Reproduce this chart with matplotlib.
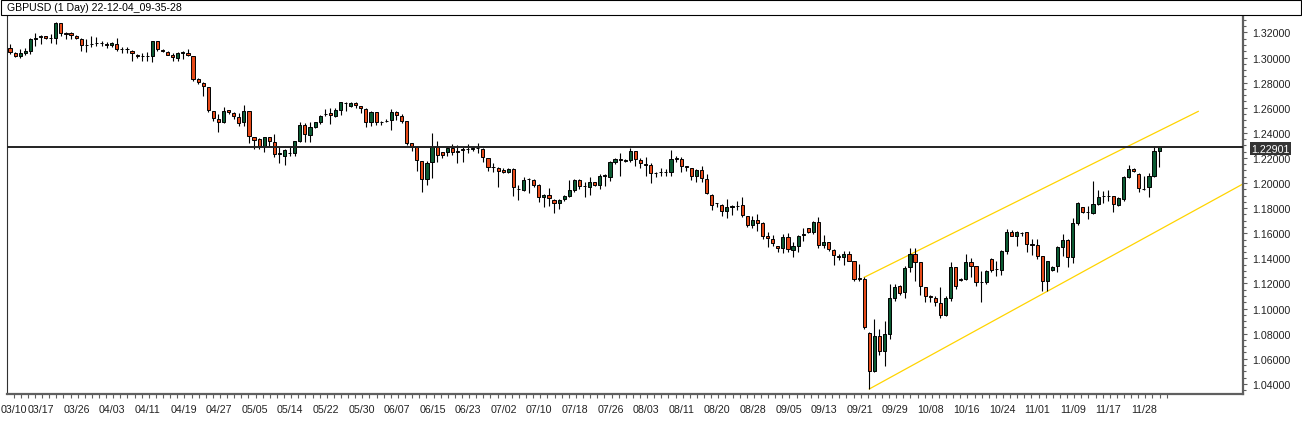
import matplotlib
matplotlib.use('Agg')
import matplotlib.pyplot as plt
import matplotlib.transforms as mtransforms
from matplotlib.patches import Rectangle
from matplotlib.ticker import MultipleLocator, FixedLocator, FuncFormatter
import numpy as np

plt.rcParams['font.family'] = ['Liberation Sans', 'DejaVu Sans']

title = 'GBPUSD (1 Day) 22-12-04_09-35-28'

# OHLC, one row per daily candle
opens = [1.3074, 1.3034, 1.3010, 1.3037, 1.3050, 1.3150, 1.3160, 1.3169, 1.3153, 1.3153,
         1.3273, 1.3193, 1.3196, 1.3175, 1.3145, 1.3100, 1.3104, 1.3117, 1.3119, 1.3105,
         1.3103, 1.3106, 1.3071, 1.3069, 1.3055, 1.3023, 1.3015, 1.3013, 1.3010, 1.3130,
         1.3057, 1.3042, 1.3023, 1.2997, 1.3040, 1.3034, 1.3010, 1.2829, 1.2795, 1.2763,
         1.2572, 1.2508, 1.2484, 1.2580, 1.2556, 1.2524, 1.2484, 1.2572, 1.2364, 1.2348,
         1.2293, 1.2364, 1.2324, 1.2235, 1.2218, 1.2240, 1.2237, 1.2338, 1.2463, 1.2386,
         1.2449, 1.2484, 1.2548, 1.2558, 1.2537, 1.2582, 1.2641, 1.2616, 1.2638, 1.2611,
         1.2590, 1.2484, 1.2563, 1.2490, 1.2495, 1.2505, 1.2563, 1.2531, 1.2492, 1.2316,
         1.2284, 1.2173, 1.2032, 1.2165, 1.2284, 1.2244, 1.2250, 1.2279, 1.2258, 1.2268,
         1.2271, 1.2274, 1.2279, 1.2271, 1.2197, 1.2126, 1.2117, 1.2106, 1.2090, 1.2112,
         1.1953, 1.1947, 1.2030, 1.2024, 1.1984, 1.1886, 1.1904, 1.1867, 1.1838, 1.1873,
         1.1899, 1.1947, 1.2024, 1.1975, 1.1965, 1.2005, 1.1987, 1.2053, 1.2051, 1.2165,
         1.2188, 1.2175, 1.2186, 1.2252, 1.2183, 1.2150, 1.2144, 1.2080, 1.2085, 1.2086,
         1.2086, 1.2195, 1.2192, 1.2133, 1.2118, 1.2054, 1.2104, 1.2032, 1.1908, 1.1840,
         1.1828, 1.1775, 1.1813, 1.1818, 1.1825, 1.1735, 1.1668, 1.1706, 1.1682, 1.1575,
         1.1554, 1.1496, 1.1480, 1.1567, 1.1469, 1.1501, 1.1589, 1.1639, 1.1613, 1.1687,
         1.1509, 1.1528, 1.1466, 1.1415, 1.1408, 1.1435, 1.1377, 1.1241, 1.1236, 1.0803,
         1.0505, 1.0779, 1.0665, 1.0797, 1.1084, 1.1177, 1.1129, 1.1329, 1.1435, 1.1369,
         1.1169, 1.1097, 1.1082, 1.1042, 1.0952, 1.1084, 1.1329, 1.1233, 1.1236, 1.1369,
         1.1337, 1.1211, 1.1209, 1.1393, 1.1313, 1.1310, 1.1462, 1.1608, 1.1581, 1.1604,
         1.1608, 1.1512, 1.1510, 1.1416, 1.1217, 1.1310, 1.1337, 1.1493, 1.1546, 1.1408,
         1.1682, 1.1807, 1.1770, 1.1762, 1.1833, 1.1893, 1.1895, 1.1895, 1.1826, 1.1873,
         1.2051, 1.2112, 1.2073, 1.1955, 1.1966, 1.2059, 1.2259]
highs = [1.3108, 1.3042, 1.3068, 1.3076, 1.3153, 1.3196, 1.3180, 1.3175, 1.3191, 1.3281,
         1.3276, 1.3201, 1.3206, 1.3183, 1.3153, 1.3148, 1.3169, 1.3167, 1.3135, 1.3122,
         1.3127, 1.3153, 1.3087, 1.3087, 1.3060, 1.3029, 1.3034, 1.3042, 1.3135, 1.3135,
         1.3068, 1.3055, 1.3037, 1.3042, 1.3052, 1.3068, 1.3015, 1.2835, 1.2803, 1.2768,
         1.2577, 1.2550, 1.2604, 1.2585, 1.2564, 1.2556, 1.2622, 1.2577, 1.2370, 1.2356,
         1.2370, 1.2370, 1.2391, 1.2285, 1.2271, 1.2285, 1.2338, 1.2484, 1.2479, 1.2484,
         1.2489, 1.2542, 1.2590, 1.2595, 1.2595, 1.2648, 1.2646, 1.2643, 1.2643, 1.2616,
         1.2595, 1.2574, 1.2569, 1.2497, 1.2510, 1.2590, 1.2571, 1.2550, 1.2497, 1.2316,
         1.2290, 1.2178, 1.2178, 1.2399, 1.2332, 1.2250, 1.2290, 1.2311, 1.2306, 1.2284,
         1.2311, 1.2290, 1.2316, 1.2276, 1.2202, 1.2159, 1.2125, 1.2117, 1.2117, 1.2117,
         1.1984, 1.2045, 1.2040, 1.2032, 1.1989, 1.1912, 1.1958, 1.1873, 1.1873, 1.1904,
         1.2024, 1.2032, 1.2032, 1.2005, 1.2051, 1.2011, 1.2072, 1.2072, 1.2173, 1.2197,
         1.2239, 1.2191, 1.2279, 1.2258, 1.2197, 1.2205, 1.2157, 1.2086, 1.2120, 1.2112,
         1.2264, 1.2213, 1.2205, 1.2133, 1.2123, 1.2112, 1.2139, 1.2072, 1.1913, 1.1841,
         1.1833, 1.1873, 1.1825, 1.1860, 1.1892, 1.1740, 1.1740, 1.1753, 1.1687, 1.1613,
         1.1586, 1.1501, 1.1594, 1.1602, 1.1528, 1.1586, 1.1642, 1.1642, 1.1700, 1.1727,
         1.1586, 1.1533, 1.1474, 1.1435, 1.1456, 1.1461, 1.1382, 1.1355, 1.1249, 1.0811,
         1.0917, 1.0837, 1.0904, 1.1196, 1.1196, 1.1188, 1.1342, 1.1486, 1.1483, 1.1374,
         1.1175, 1.1111, 1.1103, 1.1175, 1.1103, 1.1369, 1.1334, 1.1241, 1.1435, 1.1401,
         1.1342, 1.1302, 1.1308, 1.1401, 1.1382, 1.1470, 1.1634, 1.1626, 1.1621, 1.1608,
         1.1613, 1.1555, 1.1555, 1.1422, 1.1382, 1.1342, 1.1501, 1.1594, 1.1554, 1.1719,
         1.1847, 1.1812, 1.1815, 1.2019, 1.1945, 1.1940, 1.1945, 1.1900, 1.1887, 1.2054,
         1.2144, 1.2118, 1.2078, 1.2054, 1.2078, 1.2298, 1.2293]
lows = [1.3029, 1.3002, 1.2994, 1.3023, 1.3029, 1.3095, 1.3108, 1.3145, 1.3119, 1.3108,
        1.3169, 1.3145, 1.3151, 1.3145, 1.3055, 1.3042, 1.3087, 1.3092, 1.3095, 1.3079,
        1.3087, 1.3050, 1.3037, 1.3034, 1.2970, 1.2997, 1.2975, 1.2975, 1.2962, 1.3055,
        1.3042, 1.3018, 1.2975, 1.2970, 1.2989, 1.3010, 1.2816, 1.2789, 1.2691, 1.2564,
        1.2495, 1.2404, 1.2479, 1.2550, 1.2511, 1.2457, 1.2452, 1.2317, 1.2271, 1.2271,
        1.2250, 1.2285, 1.2205, 1.2157, 1.2146, 1.2218, 1.2218, 1.2324, 1.2324, 1.2330,
        1.2439, 1.2471, 1.2532, 1.2470, 1.2523, 1.2542, 1.2577, 1.2608, 1.2595, 1.2555,
        1.2449, 1.2457, 1.2462, 1.2465, 1.2484, 1.2425, 1.2505, 1.2476, 1.2306, 1.2258,
        1.2098, 1.1931, 1.1984, 1.2037, 1.2165, 1.2197, 1.2213, 1.2226, 1.2157, 1.2165,
        1.2239, 1.2258, 1.2236, 1.2170, 1.2098, 1.2085, 1.1971, 1.2080, 1.2080, 1.1894,
        1.1867, 1.1939, 1.1918, 1.1971, 1.1846, 1.1806, 1.1819, 1.1758, 1.1793, 1.1859,
        1.1886, 1.1931, 1.1952, 1.1886, 1.1904, 1.1979, 1.1952, 1.1979, 1.2013, 1.2151,
        1.2058, 1.2165, 1.2170, 1.2133, 1.2117, 1.2058, 1.1998, 1.2046, 1.2059, 1.2059,
        1.2059, 1.2165, 1.2091, 1.2099, 1.2027, 1.2006, 1.2006, 1.1913, 1.1788, 1.1807,
        1.1740, 1.1719, 1.1748, 1.1788, 1.1732, 1.1647, 1.1642, 1.1621, 1.1554, 1.1493,
        1.1501, 1.1453, 1.1440, 1.1448, 1.1408, 1.1453, 1.1541, 1.1602, 1.1594, 1.1480,
        1.1480, 1.1461, 1.1350, 1.1387, 1.1350, 1.1376, 1.1223, 1.1223, 1.0837, 1.0359,
        1.0497, 1.0630, 1.0545, 1.0758, 1.1063, 1.1111, 1.1082, 1.1294, 1.1223, 1.1111,
        1.1055, 1.1055, 1.1023, 1.0922, 1.0944, 1.1058, 1.1156, 1.1220, 1.1231, 1.1254,
        1.1183, 1.1055, 1.1196, 1.1294, 1.1262, 1.1268, 1.1435, 1.1576, 1.1501, 1.1576,
        1.1448, 1.1427, 1.1395, 1.1143, 1.1143, 1.1302, 1.1289, 1.1422, 1.1334, 1.1361,
        1.1666, 1.1762, 1.1714, 1.1754, 1.1826, 1.1841, 1.1860, 1.1772, 1.1815, 1.1860,
        1.2041, 1.2086, 1.1932, 1.1945, 1.1892, 1.2046, 1.2126]
closes = [1.3042, 1.3010, 1.3034, 1.3055, 1.3145, 1.3156, 1.3169, 1.3153, 1.3156, 1.3273,
          1.3196, 1.3191, 1.3180, 1.3156, 1.3100, 1.3102, 1.3106, 1.3119, 1.3117, 1.3103,
          1.3114, 1.3071, 1.3069, 1.3067, 1.3034, 1.3010, 1.3013, 1.3015, 1.3130, 1.3068,
          1.3055, 1.3023, 1.3002, 1.3034, 1.3042, 1.3018, 1.2829, 1.2803, 1.2771, 1.2582,
          1.2516, 1.2484, 1.2572, 1.2564, 1.2532, 1.2479, 1.2572, 1.2372, 1.2343, 1.2293,
          1.2364, 1.2338, 1.2232, 1.2237, 1.2261, 1.2237, 1.2332, 1.2463, 1.2391, 1.2444,
          1.2484, 1.2537, 1.2550, 1.2542, 1.2582, 1.2643, 1.2640, 1.2635, 1.2622, 1.2595,
          1.2484, 1.2569, 1.2489, 1.2489, 1.2497, 1.2563, 1.2542, 1.2497, 1.2316, 1.2290,
          1.2183, 1.2032, 1.2157, 1.2284, 1.2226, 1.2226, 1.2276, 1.2244, 1.2244, 1.2266,
          1.2270, 1.2276, 1.2278, 1.2205, 1.2130, 1.2125, 1.2098, 1.2090, 1.2112, 1.1965,
          1.1952, 1.2024, 1.2032, 1.1987, 1.1886, 1.1904, 1.1878, 1.1838, 1.1864, 1.1894,
          1.1944, 1.2024, 1.1979, 1.1973, 1.2005, 1.1987, 1.2058, 1.2064, 1.2165, 1.2191,
          1.2186, 1.2183, 1.2252, 1.2191, 1.2157, 1.2146, 1.2078, 1.2078, 1.2086, 1.2088,
          1.2192, 1.2197, 1.2139, 1.2131, 1.2054, 1.2104, 1.2038, 1.1918, 1.1828, 1.1839,
          1.1775, 1.1807, 1.1815, 1.1820, 1.1748, 1.1668, 1.1706, 1.1682, 1.1581, 1.1560,
          1.1520, 1.1480, 1.1567, 1.1474, 1.1496, 1.1581, 1.1591, 1.1613, 1.1687, 1.1509,
          1.1528, 1.1474, 1.1429, 1.1413, 1.1435, 1.1381, 1.1236, 1.1238, 1.0856, 1.0505,
          1.0779, 1.0665, 1.0797, 1.1082, 1.1169, 1.1124, 1.1323, 1.1435, 1.1369, 1.1177,
          1.1098, 1.1095, 1.1050, 1.0952, 1.1082, 1.1329, 1.1183, 1.1231, 1.1369, 1.1342,
          1.1209, 1.1209, 1.1297, 1.1310, 1.1315, 1.1456, 1.1608, 1.1581, 1.1613, 1.1602,
          1.1515, 1.1510, 1.1422, 1.1217, 1.1377, 1.1334, 1.1488, 1.1546, 1.1408, 1.1679,
          1.1841, 1.1767, 1.1772, 1.1833, 1.1887, 1.1895, 1.1893, 1.1833, 1.1881, 1.2046,
          1.2112, 1.2094, 1.1961, 1.1953, 1.2054, 1.2253, 1.2290]

last_price = 1.22901

date_labels = ['03/10', '03/17', '03/26', '04/03', '04/11', '04/19', '04/27', '05/05',
               '05/14', '05/22', '05/30', '06/07', '06/15', '06/23', '07/02', '07/10',
               '07/18', '07/26', '08/03', '08/11', '08/20', '08/28', '09/05', '09/13',
               '09/21', '09/29', '10/08', '10/16', '10/24', '11/01', '11/09', '11/17',
               '11/28']
label_bars = [-1.85] + [3.5 + 7 * k for k in range(32)]

# channel lines drawn on the chart: (bar, price) end points
upper_bars, upper_prices = [168, 233.7], [1.1249, 1.2571]
lower_bars, lower_prices = [169, 242.5], [1.0359, 1.1993]

UP = '#0b5a32'
DOWN = '#e64a19'
AXC = '#5f5f5f'

o = np.array(opens); h = np.array(highs); l = np.array(lows); c = np.array(closes)
x = np.arange(len(o))

W, H = 1302, 435
fig = plt.figure(figsize=(W / 100, H / 100), dpi=100)
fig.patch.set_facecolor('white')
ax = fig.add_axes([6.5 / W, 1 - 395 / H, (1243 - 6.5) / W, (395 - 15.5) / H])

ax.vlines(x, l, h, color='black', lw=0.8, zorder=2)
body_lo = np.minimum(o, c)
body_h = np.abs(c - o)
cols = [UP if cc > oo else DOWN for oo, cc in zip(o, c)]
ax.bar(x, body_h, bottom=body_lo, width=0.62, color=cols, edgecolor='black',
       linewidth=0.7, zorder=3)

ax.plot(upper_bars, upper_prices, color='#ffd400', lw=0.9, zorder=1)
ax.plot(lower_bars, lower_prices, color='#ffd400', lw=0.9, zorder=1)

ax.axhline(last_price, color='#222222', lw=1.4, zorder=4)

ax.set_xlim(-0.69, 242.5)
ax.set_ylim(1.0319, 1.3343)

# right price scale
ax.yaxis.tick_right()
ax.yaxis.set_major_locator(MultipleLocator(0.02))
ax.yaxis.set_minor_locator(MultipleLocator(0.005))
ax.yaxis.set_major_formatter(FuncFormatter(lambda v, p: '%.5f' % v))
ax.tick_params(axis='y', which='major', length=3, width=0.8, color=AXC, pad=3.4,
               labelsize=7.7, labelcolor='#222222')
ax.tick_params(axis='y', which='minor', length=2, width=0.8, color=AXC)

# date scale (the first label sits left of the first bar, outside the view)
ax.xaxis.set_major_locator(FixedLocator(label_bars[1:]))
ax.set_xticklabels(date_labels[1:], ha='left')
ax.xaxis.set_minor_locator(FixedLocator(np.arange(3.5 - 1.4 * 2, 228, 1.4)))
ax.tick_params(axis='x', which='major', length=3, width=0.8, color=AXC, pad=4,
               labelsize=7.7, labelcolor='#222222')
ax.tick_params(axis='x', which='minor', length=3, width=0.8, color=AXC)
trx = mtransforms.blended_transform_factory(ax.transData, ax.transAxes)
trx = trx + mtransforms.ScaledTranslation(0, -7 / 72, fig.dpi_scale_trans)
ax.text(label_bars[0], 0, date_labels[0], transform=trx, ha='left', va='top',
        fontsize=7.7, color='#222222', clip_on=False)

ax.spines['top'].set_visible(False)
ax.spines['left'].set_color('#303030')
ax.spines['left'].set_linewidth(0.8)
for s in ('bottom', 'right'):
    ax.spines[s].set_color(AXC)
    ax.spines[s].set_linewidth(1.6)

# price tag of the horizontal line
tr = mtransforms.blended_transform_factory(ax.transAxes, ax.transData)
tr = tr + mtransforms.ScaledTranslation(8 / 100, -2 / 100, fig.dpi_scale_trans)
ax.text(1.0, last_price, '%.5f' % last_price, transform=tr, ha='left', va='center',
        fontsize=7.7, color='white',
        bbox=dict(boxstyle='square,pad=0.12', fc='#333333', ec='none'), zorder=5)

# title box
fig.patches.append(Rectangle((0.5 / W, 1 - 15.5 / H), (W - 1.5) / W, 15 / H,
                             transform=fig.transFigure, fc='white', ec='black',
                             lw=0.8, zorder=0))
fig.text(7 / W, 1 - 8 / H, title, ha='left', va='center', fontsize=7.6, color='black')

fig.savefig('out.png', dpi=100)
